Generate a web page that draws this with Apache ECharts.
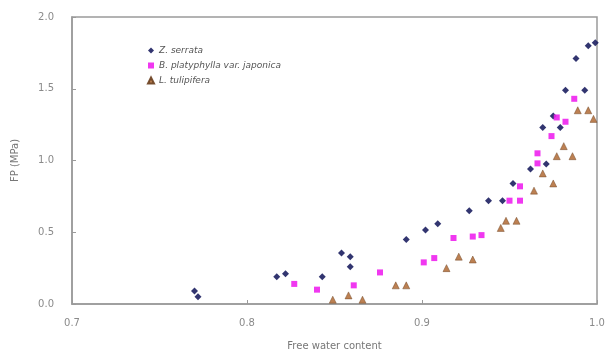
<!DOCTYPE html>
<html>
<head>
<meta charset="utf-8">
<script src="https://cdn.jsdelivr.net/npm/echarts@6/dist/echarts.min.js"></script>
<style>html,body{margin:0;padding:0;background:#fff}#c{width:611px;height:358px}</style>
</head>
<body>
<div id="c"></div>
<script>
var seriesNames = ['Z. serrata', 'B. platyphylla var. japonica', 'L. tulipifera'];
var xTicks = [0.7, 0.8, 0.9, 1.0];
var yTicks = [0.0, 0.5, 1.0, 1.5, 2.0];

var zsX = [0.770, 0.772, 0.817, 0.822, 0.843, 0.854, 0.859, 0.859, 0.891, 0.902, 0.909, 0.927, 0.938, 0.946, 0.952, 0.962, 0.971, 0.969, 0.979, 0.975, 0.982, 0.993, 0.988, 0.995, 0.999];
var zsY = [0.09, 0.05, 0.19, 0.21, 0.19, 0.355, 0.33, 0.26, 0.45, 0.515, 0.56, 0.65, 0.72, 0.72, 0.84, 0.94, 0.975, 1.23, 1.23, 1.31, 1.49, 1.49, 1.71, 1.80, 1.82];

var bpX = [0.827, 0.840, 0.861, 0.876, 0.901, 0.907, 0.918, 0.929, 0.934, 0.950, 0.956, 0.956, 0.966, 0.966, 0.974, 0.977, 0.982, 0.987];
var bpY = [0.14, 0.10, 0.13, 0.22, 0.29, 0.32, 0.46, 0.47, 0.48, 0.72, 0.72, 0.82, 1.05, 0.98, 1.17, 1.30, 1.27, 1.43];

var ltX = [0.849, 0.858, 0.866, 0.885, 0.891, 0.914, 0.921, 0.929, 0.945, 0.948, 0.954, 0.964, 0.969, 0.975, 0.977, 0.981, 0.986, 0.989, 0.995, 0.998];
var ltY = [0.03, 0.06, 0.03, 0.13, 0.13, 0.25, 0.33, 0.31, 0.53, 0.58, 0.58, 0.79, 0.91, 0.84, 1.03, 1.10, 1.03, 1.35, 1.35, 1.29];

function pairs(xs, ys) { return xs.map(function (x, i) { return [x, ys[i]]; }); }

var chart = echarts.init(document.getElementById('c'));
var txt = {color: '#8a8a8a', fontFamily: 'DejaVu Sans', fontSize: 10};
chart.setOption({
  animation: false,
  backgroundColor: '#fff',
  grid: {left: 72, right: 14, top: 17, bottom: 54, show: true, borderColor: '#9a9a9a', borderWidth: 1.5},
  legend: {
    orient: 'vertical', left: 142, top: 41, itemGap: 6, itemWidth: 6, itemHeight: 6,
    data: seriesNames,
    textStyle: {color: '#555', fontFamily: 'DejaVu Sans', fontSize: 9, fontStyle: 'italic'}
  },
  xAxis: {
    type: 'value', min: xTicks[0], max: xTicks[xTicks.length - 1], interval: 0.1,
    name: 'Free water content', nameLocation: 'middle', nameGap: 37,
    nameTextStyle: {color: '#777', fontFamily: 'DejaVu Sans', fontSize: 10},
    axisLine: {lineStyle: {color: '#9a9a9a', width: 1.5}},
    axisTick: {inside: true, length: 4, lineStyle: {color: '#9a9a9a'}},
    axisLabel: Object.assign({margin: 14, formatter: function (v) { return v.toFixed(1); }}, txt),
    splitLine: {show: false}
  },
  yAxis: {
    type: 'value', min: yTicks[0], max: yTicks[yTicks.length - 1], interval: 0.5,
    name: 'FP (MPa)', nameLocation: 'middle', nameGap: 52, nameRotate: 90,
    nameTextStyle: {color: '#777', fontFamily: 'DejaVu Sans', fontSize: 10},
    axisLine: {lineStyle: {color: '#9a9a9a', width: 1.5}},
    axisTick: {inside: true, length: 4, lineStyle: {color: '#9a9a9a'}},
    axisLabel: Object.assign({margin: 18, formatter: function (v) { return v.toFixed(1); }}, txt),
    splitLine: {show: false}
  },
  series: [
    {name: seriesNames[0], type: 'scatter', symbol: 'diamond', symbolSize: 7,
     itemStyle: {color: '#1c1f60', opacity: 0.9}, data: pairs(zsX, zsY)},
    {name: seriesNames[1], type: 'scatter', symbol: 'rect', symbolSize: 6,
     itemStyle: {color: '#ee22ee', opacity: 0.9}, data: pairs(bpX, bpY)},
    {name: seriesNames[2], type: 'scatter', symbol: 'triangle', symbolSize: 7,
     itemStyle: {color: '#b5723f', borderColor: '#6a4020', borderWidth: 0.5, opacity: 0.9}, data: pairs(ltX, ltY)}
  ]
});
</script>
</body>
</html>
